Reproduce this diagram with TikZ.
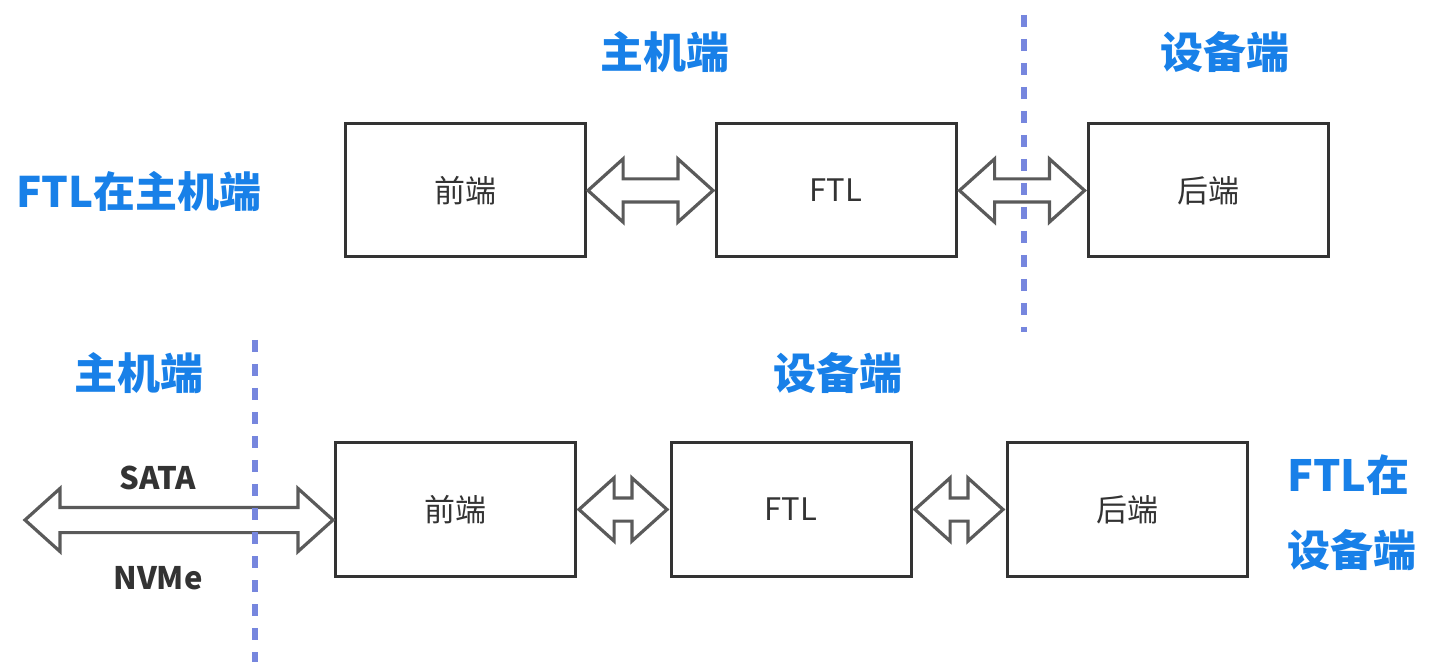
\documentclass[tikz,border=0pt]{standalone}
\usepackage{fontspec}
\setmainfont{Noto Sans CJK SC}
\usetikzlibrary{shapes.arrows, calc}
\definecolor{HdBlue}{RGB}{24,128,232}
\definecolor{SepBlue}{RGB}{118,134,222}
\definecolor{BoxGray}{RGB}{51,51,51}
\definecolor{ArrGray}{RGB}{90,90,90}

\begin{document}
\begin{tikzpicture}[x=0.5pt, y=-0.5pt,
      box/.style={rectangle, draw=BoxGray, line width=1.5pt,
                  minimum width=120pt, minimum height=66.5pt,
                  font=\fontsize{15.5}{18}\selectfont, text=BoxGray},
      link/.style={double arrow, draw=ArrGray, fill=white, line width=1.6pt,
                   inner xsep=0pt, inner ysep=5pt,
                   double arrow head extend=10pt, double arrow tip angle=84},
      side/.style={font=\fontsize{21.5}{26}\selectfont\bfseries, text=HdBlue},
      bus/.style={font=\fontsize{15.5}{18}\selectfont\bfseries, text=BoxGray},
      sep/.style={SepBlue, line width=3pt, dash pattern=on 6pt off 6pt}
    ]
    \useasboundingbox (0,0) rectangle (1435,662);

    % Host side FTL
    \node[side] (hostT) at (665,52)  {主机端};
    \node[side] (devT)  at (1225,52) {设备端};
    \node[side, font=\fontsize{21}{26}\selectfont\bfseries] (modeA) at (139,192) {FTL在主机端};

    \node[box] (fe1)  at (465,190.5)  {前端};
    \node[box] (ftl1) at (836,190.5)  {FTL};
    \node[box] (be1)  at (1208,190.5) {后端};

    \node[link, minimum height=62.5pt] (l1) at ($(fe1.east)!0.5!(ftl1.west)$) {};
    \node[link, minimum height=62.5pt] (l2) at ($(ftl1.east)!0.5!(be1.west)$) {};

    % Device side FTL
    \node[side] (hostB) at (139,373) {主机端};
    \node[side] (devB)  at (838,373) {设备端};
    \node[side, align=left, anchor=west,
          font=\fontsize{21.5}{37.5}\selectfont\bfseries] (modeB) at (1280,512.5) {FTL在\\设备端};

    \node[box] (fe2)  at (455,509.5)  {前端};
    \node[box] (ftl2) at (791,509.5)  {FTL};
    \node[box] (be2)  at (1127,509.5) {后端};

    \node[link, minimum height=44pt] (l3) at ($(fe2.east)!0.5!(ftl2.west)$) {};
    \node[link, minimum height=44pt] (l4) at ($(ftl2.east)!0.5!(be2.west)$) {};

    \node[link, minimum height=154pt, inner ysep=5.5pt,
          double arrow head extend=9.5pt] (host) at (179,520) {};
    \node[bus] (sata) at (158,478) {SATA};
    \node[bus] (nvme) at (158,578) {NVMe};

    % Dividers
    \coordinate (cutT1) at (1024,15);
    \coordinate (cutT2) at (1024,332);
    \coordinate (cutB1) at (255,340);
    \coordinate (cutB2) at (255,662);
    \draw[sep] (cutT1) -- (cutT2);
    \draw[sep] (cutB1) -- (cutB2);
  \end{tikzpicture}
\end{document}
